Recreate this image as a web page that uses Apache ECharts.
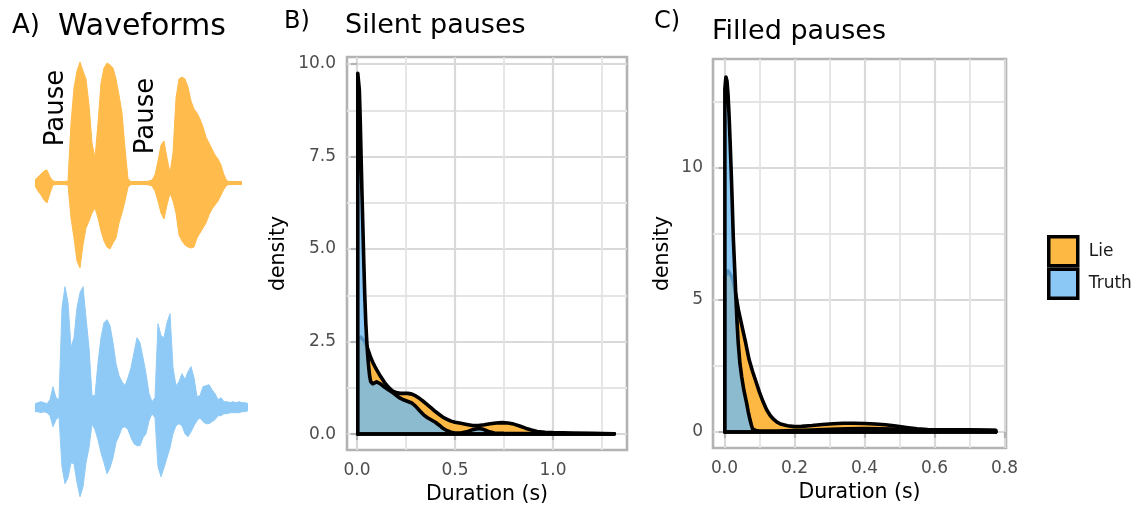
<!DOCTYPE html>
<html><head><meta charset="utf-8">
<script src="https://cdn.jsdelivr.net/npm/echarts@6/dist/echarts.min.js"></script>
<style>html,body{margin:0;padding:0;background:#fff}#c{width:1143px;height:512px}</style>
</head><body><div id="c"></div>
<script>
// ---------- Panel A: waveform envelopes (amplitude above / below centre) ----------
const lieWaveTop = [3,6,9,12,13,6,2,1.5,1.5,1.5,1.5,2,60,95,112,121,112,104,78,40,25,60,100,115,120,118,115,104,88,70,35,4,1.5,1.5,1.5,1.5,1.5,1.5,2,3,8,22,38,42,25,10,30,85,104,106,104,96,82,74,70,64,56,46,40,34,28,24,18,8,2,1.5,1.5,1.5,1.5,1.5];
const lieWaveBottom = [3,8,12,17,20,10,2,1.5,1.5,1.5,1.5,2,35,55,78,85,62,45,38,30,25,35,48,58,64,66,60,55,40,30,18,4,1.5,1.5,1.5,1.5,1.5,1.5,2,3,8,18,30,36,22,10,18,30,52,58,62,64,65,64,55,50,45,40,32,26,22,18,12,6,2,1.5,1.5,1.5,1.5,1.5];
const truthWaveTop = [4,5,6,5,4,8,21,10,8,100,121,105,60,70,100,115,121,90,60,12,12,45,70,85,88,82,65,44,32,26,22,30,40,55,70,65,50,34,14,6,10,84,72,70,85,94,40,22,26,34,28,36,41,30,11,12,21,22,23,18,14,8,10,6,6,5,6,5,6,5,5,4];
const truthWaveBottom = [4,4,5,4,5,8,19,12,9,59,76,70,55,56,75,89,79,55,40,16,22,32,45,55,66,60,50,35,28,20,19,22,30,36,38,38,30,26,13,6,10,59,69,60,50,40,26,18,16,18,26,29,24,18,13,10,14,16,16,14,12,8,8,6,6,5,5,5,5,4,4,3];

// ---------- Panel B: silent pauses (density) ----------
const silentLieX = [0.004,0.01,0.02,0.03,0.04,0.05,0.06,0.07,0.08,0.09,0.10,0.12,0.14,0.16,0.18,0.20,0.22,0.24,0.26,0.28,0.30,0.32,0.34,0.36,0.38,0.40,0.42,0.44,0.46,0.48,0.50,0.53,0.56,0.59,0.62,0.65,0.68,0.71,0.74,0.77,0.80,0.83,0.86,0.89,0.92,0.96,1.0,1.1,1.2,1.313];
const silentLieY = [2.55,2.6,2.62,2.58,2.5,2.38,2.22,2.07,1.95,1.84,1.74,1.56,1.40,1.27,1.17,1.12,1.10,1.10,1.10,1.08,1.03,0.96,0.88,0.79,0.70,0.61,0.53,0.45,0.40,0.35,0.32,0.29,0.26,0.23,0.23,0.25,0.28,0.30,0.31,0.30,0.27,0.22,0.16,0.11,0.07,0.05,0.04,0.03,0.02,0.01];
const silentTruthX = [0.004,0.008,0.012,0.016,0.02,0.025,0.03,0.035,0.04,0.045,0.05,0.055,0.06,0.065,0.07,0.075,0.08,0.09,0.10,0.11,0.12,0.13,0.14,0.16,0.18,0.20,0.22,0.24,0.26,0.28,0.30,0.32,0.34,0.36,0.38,0.40,0.42,0.44,0.46,0.48,0.50,0.53,0.56,0.59,0.62,0.645,0.67,0.70,0.75,0.85,1.0,1.15,1.313];
const silentTruthY = [9.75,9.7,9.3,8.6,7.7,6.6,5.6,4.6,3.7,3.0,2.5,2.1,1.8,1.55,1.42,1.37,1.36,1.38,1.41,1.40,1.36,1.31,1.27,1.2,1.13,1.05,0.97,0.92,0.88,0.84,0.75,0.63,0.52,0.44,0.38,0.32,0.24,0.15,0.09,0.05,0.03,0.03,0.06,0.12,0.15,0.13,0.07,0.03,0.02,0.015,0.01,0.01,0.01];

// ---------- Panel C: filled pauses (density) ----------
const filledLieX = [0.001,0.005,0.01,0.015,0.02,0.025,0.03,0.035,0.04,0.045,0.05,0.06,0.07,0.08,0.09,0.10,0.11,0.12,0.13,0.14,0.15,0.16,0.18,0.20,0.22,0.25,0.28,0.31,0.34,0.37,0.40,0.43,0.46,0.49,0.52,0.55,0.58,0.62,0.66,0.70,0.74,0.775];
const filledLieY = [5.85,6.0,6.1,6.05,5.9,5.7,5.35,5.0,4.6,4.3,4.0,3.4,2.75,2.3,1.9,1.5,1.15,0.85,0.63,0.48,0.37,0.30,0.23,0.20,0.21,0.24,0.28,0.31,0.33,0.33,0.32,0.30,0.27,0.22,0.17,0.12,0.09,0.08,0.08,0.08,0.07,0.06];
const filledTruthX = [0.001,0.004,0.007,0.01,0.013,0.016,0.019,0.022,0.025,0.029,0.032,0.036,0.039,0.044,0.049,0.055,0.063,0.068,0.073,0.077,0.08,0.09,0.10,0.15,0.20,0.25,0.30,0.35,0.40,0.45,0.50,0.55,0.60,0.65,0.70,0.775];
const filledTruthY = [13.0,13.45,13.3,12.8,12.0,11.0,9.9,8.7,7.4,6.2,5.25,4.1,3.4,2.6,2.1,1.6,1.1,0.75,0.45,0.25,0.12,0.05,0.03,0.03,0.05,0.07,0.1,0.12,0.13,0.12,0.1,0.07,0.05,0.05,0.06,0.05];

// ---------- tick labels ----------
const silentXTicks = [0, 0.5, 1.0], silentXLabels = ['0.0','0.5','1.0'], silentXMinor = [0.25, 0.75, 1.25];
const silentYTicks = [0, 2.5, 5, 7.5, 10], silentYLabels = ['0.0','2.5','5.0','7.5','10.0'], silentYMinor = [1.25, 3.75, 6.25, 8.75];
const filledXTicks = [0, 0.2, 0.4, 0.6, 0.8], filledXLabels = ['0.0','0.2','0.4','0.6','0.8'], filledXMinor = [0.1, 0.3, 0.5, 0.7];
const filledYTicks = [0, 5, 10], filledYLabels = ['0','5','10'], filledYMinor = [2.5, 7.5, 12.5];

const categories = ['Lie', 'Truth'];
const LIE_FILL = '#FDB844', TRUTH_FILL = '#6FBAF3', TRUTH_KEY = '#8CC8F5';
const WAVE_ORANGE = '#FFBB4C', WAVE_BLUE = '#8FCAF6';
const FONT = 'DejaVu Sans';
const LW = 3.6;

function fmt(ticks, labels) {
  return v => { for (let i = 0; i < ticks.length; i++) if (Math.abs(ticks[i] - v) < 1e-6) return labels[i]; return ''; };
}
function mainAxis(grid, min, max, ticks, labels, name, nameGap, margin) {
  return {
    type: 'value', gridIndex: grid, min, max,
    axisLine: { show: false },
    axisTick: { show: true, customValues: ticks, length: 6, lineStyle: { color: '#b3b3b3', width: 2.2 } },
    axisLabel: { customValues: ticks, formatter: fmt(ticks, labels), color: '#4d4d4d', fontSize: 17, fontFamily: FONT, margin },
    splitLine: { show: true, lineStyle: { color: '#d9d9d9', width: 2.2 } },
    name, nameLocation: 'middle', nameGap,
    nameTextStyle: { fontSize: 20.5, color: '#000', fontFamily: FONT }
  };
}
function minorAxis(grid, min, max, ticks) {
  return {
    type: 'value', gridIndex: grid, min, max,
    axisLine: { show: false },
    axisTick: { show: false, customValues: ticks },
    axisLabel: { show: false, customValues: ticks },
    splitLine: { show: true, lineStyle: { color: '#e4e4e4', width: 1.8 } }
  };
}
function waveSeries(axis, values, sign, color, seam) {
  const s = {
    type: 'line', xAxisIndex: axis, yAxisIndex: axis, symbol: 'none', silent: true,
    data: values.map((v, i) => [i, sign * v]),
    lineStyle: { color, width: 1 }, areaStyle: { color, opacity: 1 }, z: 2
  };
  if (seam) {
    s.markLine = {
      silent: true, symbol: 'none', label: { show: false }, emphasis: { disabled: true },
      lineStyle: { color, width: 3, type: 'solid' },
      data: [[{ coord: [0, 0] }, { coord: [values.length - 1, 0] }]]
    };
  }
  return s;
}
function densitySeries(name, axisIdx, xs, ys, fill, opacity, key, z) {
  const n = xs.length;
  const data = [[xs[0], 0]].concat(xs.map((x, i) => [x, ys[i]])).concat([[xs[n - 1], 0]]);
  return {
    type: 'line', name, xAxisIndex: axisIdx, yAxisIndex: axisIdx, symbol: 'none', showSymbol: false,
    data, itemStyle: { color: key },
    lineStyle: { color: '#000', width: LW, join: 'round', cap: 'round' },
    areaStyle: { color: fill, opacity },
    markLine: {
      silent: true, symbol: 'none', label: { show: false },
      lineStyle: { color: '#000', width: LW, type: 'solid', cap: 'round' },
      emphasis: { disabled: true },
      data: [[{ coord: [xs[0], 0] }, { coord: [xs[n - 1], 0] }]]
    },
    z
  };
}

const chart = echarts.init(document.getElementById('c'), null, { renderer: 'canvas' });
const option = {
  animation: false,
  backgroundColor: '#fff',
  grid: [
    { left: 35, top: 55, width: 207, height: 220 },
    { left: 35, top: 280, width: 213, height: 220 },
    { left: 347, top: 57, width: 280, height: 393, show: true, borderColor: '#b3b3b3', borderWidth: 2.6, backgroundColor: 'transparent' },
    { left: 713, top: 59, width: 293, height: 389, show: true, borderColor: '#b3b3b3', borderWidth: 2.6, backgroundColor: 'transparent' }
  ],
  xAxis: [
    { type: 'value', gridIndex: 0, min: 0, max: lieWaveTop.length - 1, show: false },
    { type: 'value', gridIndex: 1, min: 0, max: truthWaveTop.length - 1, show: false },
    mainAxis(2, -0.051, 1.378, silentXTicks, silentXLabels, 'Duration (s)', 26, 12),
    minorAxis(2, -0.051, 1.378, silentXMinor),
    mainAxis(3, -0.0329, 0.8043, filledXTicks, filledXLabels, 'Duration (s)', 28, 12),
    minorAxis(3, -0.0329, 0.8043, filledXMinor)
  ],
  yAxis: [
    { type: 'value', gridIndex: 0, min: -92, max: 128, show: false },
    { type: 'value', gridIndex: 1, min: -92.3, max: 127.7, show: false },
    mainAxis(2, -0.43, 10.19, silentYTicks, silentYLabels, 'density', 58, 11),
    minorAxis(2, -0.43, 10.19, silentYMinor),
    mainAxis(3, -0.61, 14.13, filledYTicks, filledYLabels, 'density', 40, 10),
    minorAxis(3, -0.61, 14.13, filledYMinor)
  ],
  legend: {
    orient: 'vertical', left: 1042, top: 230, itemWidth: 29, itemHeight: 29, itemGap: 0,
    icon: 'rect', selectedMode: false,
    textStyle: { fontSize: 17, color: '#1a1a1a', fontFamily: FONT, padding: [0, 0, 0, 6] },
    data: [
      { name: categories[0], itemStyle: { color: LIE_FILL, borderColor: '#000', borderWidth: 3.5 } },
      { name: categories[1], itemStyle: { color: TRUTH_KEY, borderColor: '#000', borderWidth: 3.5 } }
    ]
  },
  graphic: [
    { type: 'text', x: 12, y: 26, style: { text: 'A)', font: '26px "DejaVu Sans"', fill: '#000', textAlign: 'left', textVerticalAlign: 'middle' } },
    { type: 'text', x: 58, y: 27, style: { text: 'Waveforms', font: '30px "DejaVu Sans"', fill: '#000', textAlign: 'left', textVerticalAlign: 'middle' } },
    { type: 'text', x: 284, y: 22, style: { text: 'B)', font: '24px "DejaVu Sans"', fill: '#000', textAlign: 'left', textVerticalAlign: 'middle' } },
    { type: 'text', x: 345, y: 26, style: { text: 'Silent pauses', font: '27px "DejaVu Sans"', fill: '#000', textAlign: 'left', textVerticalAlign: 'middle' } },
    { type: 'text', x: 654, y: 22, style: { text: 'C)', font: '24px "DejaVu Sans"', fill: '#000', textAlign: 'left', textVerticalAlign: 'middle' } },
    { type: 'text', x: 712, y: 32, style: { text: 'Filled pauses', font: '27px "DejaVu Sans"', fill: '#000', textAlign: 'left', textVerticalAlign: 'middle' } },
    { type: 'text', x: 56, y: 108, rotation: Math.PI / 2, style: { text: 'Pause', font: '26px "DejaVu Sans"', fill: '#000', textAlign: 'center', textVerticalAlign: 'middle' } },
    { type: 'text', x: 146, y: 116, rotation: Math.PI / 2, style: { text: 'Pause', font: '26px "DejaVu Sans"', fill: '#000', textAlign: 'center', textVerticalAlign: 'middle' } }
  ],
  series: [
    waveSeries(0, lieWaveTop, 1, WAVE_ORANGE, true),
    waveSeries(0, lieWaveBottom, -1, WAVE_ORANGE, false),
    waveSeries(1, truthWaveTop, 1, WAVE_BLUE, true),
    waveSeries(1, truthWaveBottom, -1, WAVE_BLUE, false),
    densitySeries(categories[0], 2, silentLieX, silentLieY, LIE_FILL, 1, LIE_FILL, 3),
    densitySeries(categories[1], 2, silentTruthX, silentTruthY, TRUTH_FILL, 0.8, TRUTH_KEY, 4),
    densitySeries(categories[0], 4, filledLieX, filledLieY, LIE_FILL, 1, LIE_FILL, 3),
    densitySeries(categories[1], 4, filledTruthX, filledTruthY, TRUTH_FILL, 0.8, TRUTH_KEY, 4)
  ]
};
chart.setOption(option);
</script></body></html>
